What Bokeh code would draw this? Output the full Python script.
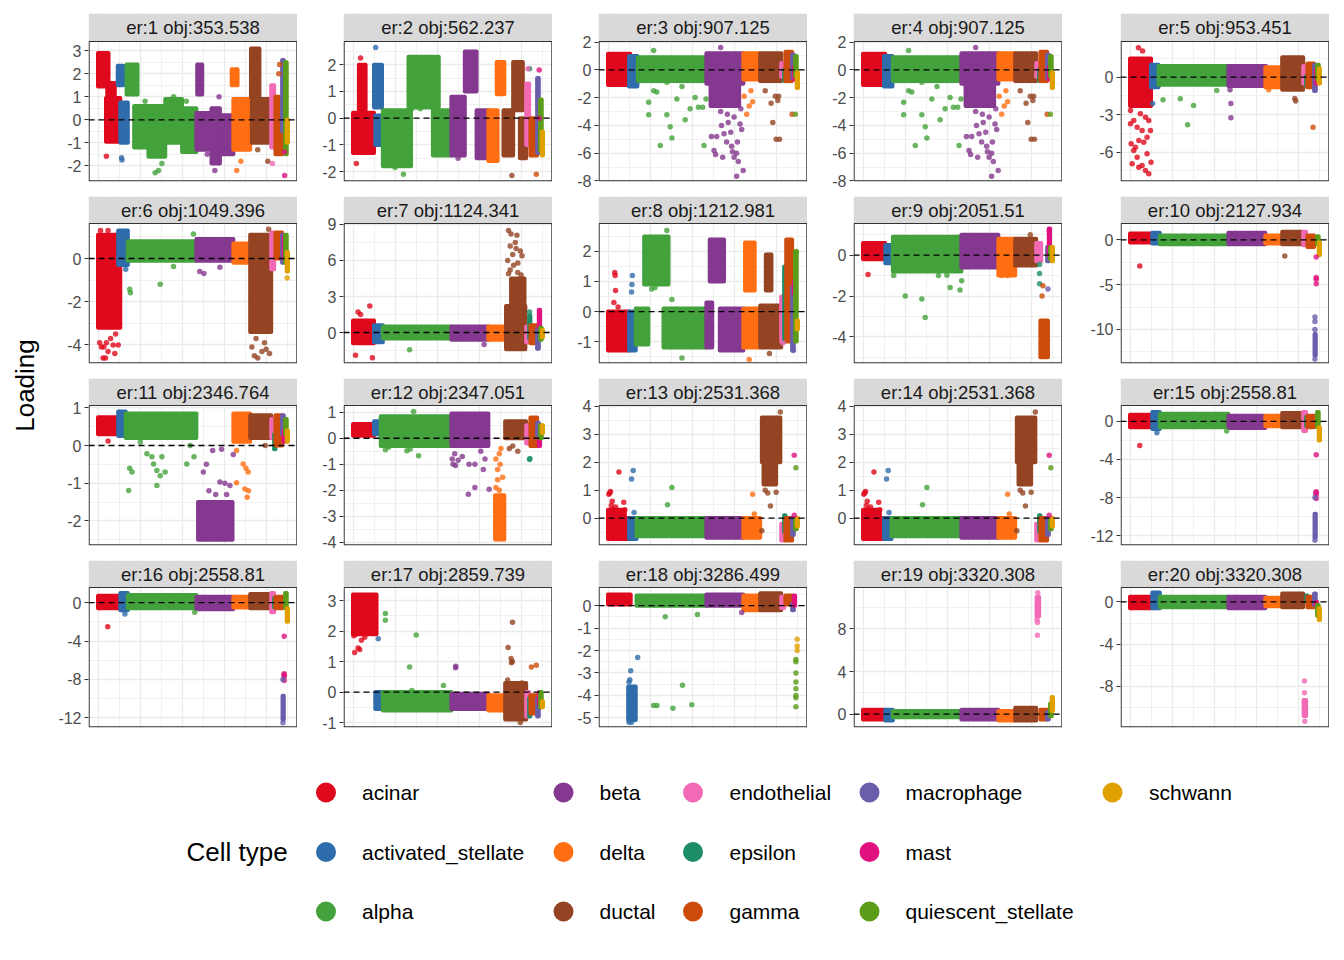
from math import pi

from bokeh.core.properties import value
from bokeh.embed import file_html
from bokeh.layouts import column, gridplot, row
from bokeh.models import ColumnDataSource, FixedTicker, Range1d, Span
from bokeh.plotting import figure
from bokeh.resources import INLINE

FONT = "Liberation Sans"

# cell types, in legend order
cell_types = ["acinar", "activated_stellate", "alpha", "beta", "delta", "ductal",
              "endothelial", "epsilon", "gamma", "macrophage", "mast",
              "quiescent_stellate", "schwann"]
type_codes = ["aci", "act", "alp", "bet", "del", "duc", "end", "eps", "gam",
              "mac", "mas", "qui", "sch"]
type_colors = ["#E0081C", "#2F6CAB", "#43A23B", "#84388F", "#FF6E12", "#944422",
               "#F26AB5", "#1C8D64", "#CE4C0B", "#6A5EAB", "#E0127F",
               "#5B9C18", "#E0A000"]

n_cells = 2260

facet_titles = ["er:1 obj:353.538", "er:2 obj:562.237", "er:3 obj:907.125",
                "er:4 obj:907.125", "er:5 obj:953.451", "er:6 obj:1049.396",
                "er:7 obj:1124.341", "er:8 obj:1212.981", "er:9 obj:2051.51",
                "er:10 obj:2127.934", "er:11 obj:2346.764", "er:12 obj:2347.051",
                "er:13 obj:2531.368", "er:14 obj:2531.368", "er:15 obj:2558.81",
                "er:16 obj:2558.81", "er:17 obj:2859.739", "er:18 obj:3286.499",
                "er:19 obj:3320.308", "er:20 obj:3320.308"]

facet_ylims = [(-2.68, 3.40), (-2.37, 2.87), (-8.04, 2.04), (-8.04, 2.04), (-8.34, 2.85),
               (-4.86, 1.62), (-2.58, 9.08), (-1.73, 2.93), (-5.30, 1.55), (-13.8, 1.83),
               (-2.65, 1.06), (-4.13, 1.26), (-0.98, 4.03), (-0.98, 4.03), (-13.05, 1.68),
               (-13.0, 1.57), (-1.16, 3.43), (-5.43, 0.81), (-1.26, 11.9), (-11.9, 1.37)]

facet_yticks = [[-2, -1, 0, 1, 2, 3], [-2, -1, 0, 1, 2], [-8, -6, -4, -2, 0, 2],
                [-8, -6, -4, -2, 0, 2], [-6, -3, 0], [-4, -2, 0], [0, 3, 6, 9],
                [-1, 0, 1, 2], [-4, -2, 0], [-10, -5, 0], [-2, -1, 0, 1],
                [-4, -3, -2, -1, 0, 1], [-1, 0, 1, 2, 3, 4], [-1, 0, 1, 2, 3, 4],
                [-12, -8, -4, 0], [-12, -8, -4, 0], [-1, 0, 1, 2, 3],
                [-5, -4, -3, -2, -1, 0], [0, 4, 8], [-8, -4, 0]]

# dense clouds: (type, first cell, last cell, low loading, high loading)
# isolated points: (type, cell, loading)
er1_bands = [("aci", 0, 125, 1.45, 2.9), ("aci", 95, 265, -0.95, 0.95), ("aci", 110, 200, 0.9, 1.6),
             ("act", 235, 300, 1.5, 2.35), ("act", 265, 355, -1.0, 0.75),
             ("alp", 340, 470, 1.1, 2.4), ("alp", 430, 600, -1.2, 0.6), ("alp", 600, 800, -1.6, 0.6),
             ("alp", 800, 1000, -1.0, 0.9), ("alp", 1000, 1170, -1.4, 0.5),
             ("bet", 1170, 1350, -1.3, 0.3), ("bet", 1350, 1450, -1.9, 0.5), ("bet", 1450, 1610, -1.5, 0.2),
             ("bet", 1180, 1240, 1.1, 2.4), ("del", 1610, 1810, -1.3, 0.9), ("del", 1590, 1660, 1.5, 2.2),
             ("duc", 1830, 2060, -1.0, 0.9), ("duc", 1820, 1920, 1.0, 3.1),
             ("end", 2060, 2095, -1.2, 1.5), ("gam", 2110, 2190, -1.5, 1.0), ("mac", 2190, 2210, -0.5, 2.6),
             ("qui", 2225, 2245, -1.5, 2.5), ("sch", 2245, 2260, -1.0, 0.0)]
er1_points = [("aci", 100, -1.58), ("act", 280, -1.65), ("act", 285, -1.75), ("alp", 680, -2.3),
              ("alp", 720, -2.2), ("alp", 760, -1.9), ("alp", 560, 0.8), ("alp", 900, 1.0),
              ("alp", 1050, 0.8), ("bet", 1390, -2.2), ("bet", 1300, -1.5), ("bet", 1440, 1.0),
              ("del", 1650, -2.2), ("del", 1700, -1.8), ("duc", 2020, -1.8), ("duc", 1900, -1.3),
              ("end", 2075, -1.9), ("gam", 2150, 2.0), ("gam", 2160, 2.4), ("mas", 2220, -2.42),
              ("mas", 2218, -1.4)]

er2_bands = [("aci", 0, 250, -1.3, 0.2), ("aci", 70, 150, 0.3, 2.0),
             ("act", 250, 345, 0.4, 2.0), ("act", 265, 355, -1.0, 0.1),
             ("alp", 355, 690, -1.8, 0.3), ("alp", 660, 1020, 0.4, 2.3), ("alp", 950, 1170, -1.4, 0.3),
             ("bet", 1170, 1330, -1.4, 0.8), ("bet", 1330, 1470, 1.0, 2.5), ("bet", 1470, 1610, -1.5, 0.3),
             ("del", 1610, 1720, -1.6, 0.3), ("del", 1710, 1800, 0.9, 2.1),
             ("duc", 1790, 1905, -1.4, 0.3), ("duc", 1905, 2020, 0.3, 2.1), ("duc", 1985, 2060, -1.5, 0.0),
             ("end", 2060, 2095, -1.0, 1.3), ("gam", 2110, 2190, -1.4, 0.0), ("mac", 2190, 2210, -1.3, 1.5),
             ("qui", 2225, 2245, -1.2, 0.7), ("sch", 2245, 2260, -1.4, -0.5)]
er2_points = [("aci", 40, -1.7), ("aci", 90, 2.25), ("act", 270, 2.65), ("alp", 600, -2.1),
              ("alp", 500, -1.85), ("alp", 700, 0.35), ("alp", 800, 0.35), ("bet", 1250, -1.5),
              ("duc", 1890, -2.15), ("eps", 2100, 1.85), ("mas", 2215, 1.8), ("mas", 2215, 0.0),
              ("gam", 2180, -2.1), ("end", 2080, 1.85)]

er3_bands = [("aci", 0, 265, -1.1, 1.15), ("act", 250, 350, -1.2, 1.0), ("alp", 355, 1170, -0.8, 0.9),
             ("bet", 1170, 1610, -1.0, 1.2), ("bet", 1220, 1560, -2.6, -1.0),
             ("del", 1610, 1810, -0.7, 1.2), ("duc", 1810, 2060, -0.8, 1.2),
             ("end", 2060, 2095, -0.5, 0.5), ("eps", 2095, 2110, -0.8, 0.0), ("gam", 2110, 2190, -0.8, 1.3),
             ("mac", 2190, 2210, -0.6, 1.1), ("mas", 2210, 2225, -0.7, 0.2), ("qui", 2225, 2245, -0.5, 1.0),
             ("sch", 2245, 2260, -1.3, -0.2)]
er3_points = [("alp", 484, -2.33), ("alp", 484, -3.24), ("alp", 543, -1.5), ("alp", 543, 1.4),
              ("alp", 622, -5.44), ("alp", 700, -3.24), ("alp", 700, -0.9), ("alp", 740, -4.1),
              ("alp", 760, -4.9), ("alp", 819, -2.1), ("alp", 918, -3.6), ("alp", 977, -2.8),
              ("alp", 1036, -2.0), ("alp", 1075, -2.7), ("alp", 1126, -2.7), ("alp", 1166, -2.1),
              ("alp", 1142, -5.44), ("alp", 580, -1.6), ("alp", 880, -1.2),
              ("bet", 1261, -5.8), ("bet", 1293, -4.8), ("bet", 1364, -6.3), ("bet", 1411, -5.2),
              ("bet", 1530, -7.67), ("bet", 1608, -7.24), ("bet", 1230, -4.8), ("bet", 1350, -4.0),
              ("bet", 1380, -4.6), ("bet", 1430, -3.8), ("bet", 1460, -4.5), ("bet", 1470, -5.5),
              ("bet", 1480, -5.9), ("bet", 1500, -6.3), ("bet", 1530, -6.0), ("bet", 1550, -6.6),
              ("bet", 1540, -5.2), ("bet", 1420, -3.2), ("bet", 1340, -3.0), ("bet", 1500, -3.4),
              ("bet", 1570, -3.9), ("bet", 1580, -2.8), ("bet", 1340, 1.6), ("bet", 1280, -6.1),
              ("bet", 1590, -4.3), ("del", 1620, -1.9), ("del", 1680, -2.6), ("del", 1720, -2.3),
              ("del", 1650, -3.2), ("del", 1700, -1.5), ("duc", 1870, -1.5), ("duc", 1940, -2.4),
              ("duc", 1960, -3.8), ("duc", 1990, -1.9), ("duc", 2020, -2.2), ("duc", 2000, -5.0),
              ("duc", 2040, -5.0), ("duc", 2030, -1.9), ("gam", 2190, -3.2), ("qui", 2230, -3.2)]

# er:4 has the same objective and the same loadings as er:3
er4_bands = er3_bands
er4_points = er3_points

er5_bands = [("aci", 0, 250, -2.3, 1.5), ("act", 250, 340, -0.8, 1.0), ("alp", 340, 1170, -0.6, 0.9),
             ("bet", 1170, 1620, -0.7, 0.9), ("del", 1610, 1800, -0.8, 0.8), ("duc", 1810, 2060, -1.0, 1.6),
             ("end", 2060, 2095, -0.5, 0.9), ("eps", 2095, 2110, -0.7, 0.1), ("gam", 2110, 2190, -0.8, 1.1),
             ("mac", 2190, 2210, -1.1, 1.0), ("mas", 2210, 2225, -0.5, 0.6), ("qui", 2225, 2245, -0.2, 1.0),
             ("sch", 2245, 2260, -0.5, 0.7)]
er5_points = [("aci", 6, -2.67), ("aci", 45, -3.47), ("aci", 85, -4.0), ("aci", 144, -4.27),
              ("aci", 184, -3.2), ("aci", 223, -3.47), ("aci", 14, -5.33), ("aci", 65, -5.6),
              ("aci", 105, -5.07), ("aci", 164, -5.2), ("aci", 203, -4.8), ("aci", 243, -4.27),
              ("aci", 26, -6.93), ("aci", 85, -6.4), ("aci", 144, -7.07), ("aci", 184, -7.47),
              ("aci", 223, -7.73), ("aci", 250, -6.8), ("aci", 105, -7.2), ("aci", 203, -6.13),
              ("aci", 45, -5.87), ("aci", 124, -2.93), ("aci", 235, -2.27), ("aci", 6, -3.73),
              ("aci", 100, 2.35), ("aci", 150, 2.1), ("act", 270, -2.1), ("alp", 393, -1.8),
              ("alp", 598, -1.73), ("alp", 756, -2.27), ("alp", 685, -3.8), ("alp", 1032, -1.07),
              ("bet", 1200, -2.1), ("bet", 1200, -3.25), ("bet", 1190, -1.0), ("del", 1650, -1.0),
              ("duc", 1960, -1.7), ("duc", 1970, -1.9), ("gam", 2177, -4.0)]

er6_bands = [("aci", 0, 265, -3.2, 1.1), ("act", 240, 355, -0.3, 1.3), ("alp", 355, 1170, -0.1, 0.8),
             ("bet", 1170, 1610, -0.1, 0.9), ("del", 1610, 1810, -0.2, 0.7), ("duc", 1810, 2060, -3.4, 1.1),
             ("end", 2060, 2095, -0.5, 1.2), ("gam", 2110, 2190, 0.0, 1.2), ("mac", 2190, 2210, -0.2, 1.1),
             ("mas", 2210, 2225, 0.0, 1.0), ("qui", 2225, 2245, -0.2, 1.1), ("sch", 2245, 2260, -0.6, 0.3)]
er6_points = [("aci", 20, -3.9), ("aci", 40, -4.1), ("aci", 60, -4.6), ("aci", 90, -4.6),
              ("aci", 120, -4.3), ("aci", 150, -3.7), ("aci", 180, -4.0), ("aci", 210, -3.5),
              ("aci", 240, -4.0), ("aci", 100, -3.9), ("aci", 200, -4.4), ("aci", 70, -4.1),
              ("aci", 30, 1.3), ("aci", 120, 1.3), ("aci", 230, -3.0), ("act", 330, -0.5),
              ("alp", 377, -1.42), ("alp", 385, -1.58), ("alp", 740, -1.19), ("alp", 898, -0.37),
              ("alp", 1135, 1.13), ("bet", 1210, -0.6), ("bet", 1260, -0.7), ("bet", 1450, -0.4),
              ("duc", 1830, -4.1), ("duc", 1860, -4.5), ("duc", 1900, -4.6), ("duc", 1950, -4.3),
              ("duc", 2000, -4.2), ("duc", 2040, -4.4), ("duc", 1980, -3.9), ("duc", 2030, 1.35),
              ("duc", 1880, -3.7), ("sch", 2250, -0.9)]

er7_bands = [("aci", 0, 250, -0.9, 1.0), ("act", 250, 355, -0.8, 0.6), ("alp", 355, 1170, -0.5, 0.5),
             ("bet", 1170, 1610, -0.6, 0.5), ("del", 1610, 1810, -0.6, 0.5), ("duc", 1820, 2050, -1.4, 2.2),
             ("duc", 1880, 2040, 2.2, 4.5), ("end", 2060, 2095, -0.8, 0.5), ("eps", 2095, 2110, -0.5, 1.4),
             ("gam", 2110, 2190, -0.9, 0.6), ("mac", 2190, 2210, -1.3, 0.3), ("mas", 2210, 2225, 0.4, 1.9),
             ("qui", 2225, 2245, -0.6, 0.4), ("sch", 2245, 2260, -0.4, 0.2)]
er7_points = [("aci", 60, 1.7), ("aci", 90, 1.5), ("aci", 200, 2.2), ("aci", 30, -1.9),
              ("aci", 230, -2.1), ("alp", 673, -1.44), ("bet", 1560, -1.0), ("duc", 1850, 8.5),
              ("duc", 1880, 8.2), ("duc", 1950, 8.1), ("duc", 1930, 7.5), ("duc", 1870, 7.2),
              ("duc", 1990, 6.8), ("duc", 1840, 6.0), ("duc", 1900, 6.5), ("duc", 1960, 5.8),
              ("duc", 1870, 5.2), ("duc", 2000, 4.8), ("duc", 1940, 7.0), ("duc", 2010, 6.4),
              ("duc", 1960, 5.0), ("duc", 1910, 5.6), ("duc", 1850, 4.9), ("eps", 2100, 1.7),
              ("mac", 2200, -1.3)]

er8_bands = [("aci", 0, 250, -1.3, 0.0), ("act", 250, 330, -1.3, 0.0), ("alp", 330, 480, -1.1, 0.1),
             ("alp", 430, 720, 0.9, 2.5), ("alp", 660, 1170, -1.2, 0.1), ("bet", 1170, 1240, -1.2, 0.3),
             ("bet", 1210, 1380, 1.0, 2.4), ("bet", 1330, 1610, -1.3, 0.1), ("del", 1610, 1800, -1.2, 0.1),
             ("del", 1630, 1745, 0.7, 2.3), ("duc", 1810, 2060, -1.2, 0.2), ("duc", 1877, 1944, 0.7, 1.9),
             ("end", 2060, 2095, -1.0, 0.5), ("eps", 2095, 2110, -1.0, 1.5), ("gam", 2120, 2190, -1.0, 2.4),
             ("mac", 2190, 2210, -1.3, 0.8), ("mas", 2210, 2225, 0.6, 1.0), ("qui", 2225, 2245, -1.0, 2.0),
             ("sch", 2245, 2260, -0.6, -0.3)]
er8_points = [("aci", 80, 1.3), ("aci", 85, 1.2), ("aci", 90, 0.7), ("aci", 70, 0.3), ("aci", 120, 0.15),
              ("act", 290, 1.2), ("act", 285, 0.9), ("act", 280, 0.65), ("alp", 700, 2.7),
              ("alp", 520, 0.75), ("alp", 560, 0.8), ("alp", 650, 0.95), ("alp", 880, -1.55),
              ("alp", 760, 0.4), ("del", 1680, -1.6), ("duc", 1920, -1.4), ("end", 2080, -1.05),
              ("qui", 2240, 2.0), ("mac", 2205, -1.3)]

er9_bands = [("aci", 0, 265, -0.2, 0.6), ("act", 265, 355, -0.4, 0.5), ("alp", 355, 1170, -0.8, 0.9),
             ("bet", 1170, 1610, -0.6, 1.0), ("del", 1610, 1810, -1.0, 0.8), ("duc", 1810, 2060, -0.5, 0.8),
             ("end", 2060, 2120, -0.3, 0.6), ("gam", 2110, 2200, -5.0, -3.2), ("mac", 2190, 2210, -0.3, 0.4),
             ("mas", 2210, 2225, 0.0, 1.3), ("qui", 2225, 2245, -0.2, 0.4), ("sch", 2245, 2260, -0.3, 0.4)]
er9_points = [("aci", 60, -0.95), ("alp", 365, -1.0), ("alp", 503, -0.7), ("alp", 622, -0.7),
              ("alp", 503, -2.0), ("alp", 700, -2.15), ("alp", 740, -3.05), ("alp", 898, -1.0),
              ("alp", 998, -0.98), ("alp", 1036, -1.58), ("alp", 1154, -1.7), ("alp", 1174, -1.25),
              ("del", 1650, -1.0), ("del", 1720, -1.0), ("duc", 1990, 1.0), ("eps", 2100, -0.45),
              ("eps", 2100, -0.9), ("eps", 2100, -1.4), ("gam", 2130, -2.0), ("gam", 2140, -1.5),
              ("mac", 2200, -1.65), ("mas", 2215, 1.2)]

er10_bands = [("aci", 0, 265, -0.3, 0.7), ("act", 265, 355, -0.4, 0.8), ("alp", 355, 1170, -0.5, 0.5),
              ("bet", 1170, 1610, -0.5, 0.8), ("del", 1610, 1810, -0.4, 0.5), ("duc", 1810, 2060, -0.5, 0.9),
              ("end", 2060, 2095, -0.6, 0.9), ("gam", 2110, 2190, -0.8, 0.5), ("mac", 2195, 2210, -12.9, -10.5),
              ("qui", 2225, 2245, -0.5, 0.4), ("sch", 2245, 2260, -1.7, -0.3)]
er10_points = [("aci", 116, -2.92), ("duc", 1841, -1.8), ("mas", 2215, -1.9), ("mas", 2215, -4.2),
               ("mas", 2215, -4.9), ("mas", 2215, -4.4), ("mac", 2200, -8.6), ("mac", 2200, -9.1),
               ("mac", 2200, -10.0), ("mac", 2200, -13.3)]

er11_bands = [("aci", 0, 250, 0.3, 0.75), ("act", 240, 330, 0.25, 0.9), ("alp", 330, 1170, 0.2, 0.85),
              ("bet", 1190, 1600, -2.5, -1.5), ("del", 1610, 1810, 0.1, 0.85), ("duc", 1810, 2060, 0.2, 0.8),
              ("end", 2060, 2095, 0.2, 0.7), ("eps", 2095, 2110, -0.1, 0.3), ("gam", 2110, 2190, 0.0, 0.8),
              ("mac", 2190, 2210, 0.3, 0.8), ("mas", 2210, 2225, 0.1, 0.4), ("qui", 2225, 2245, 0.3, 0.7),
              ("sch", 2245, 2260, 0.1, 0.4)]
er11_points = [("aci", 120, 0.12), ("alp", 377, -0.6), ("alp", 405, -0.7), ("alp", 365, -1.19),
               ("alp", 582, -0.22), ("alp", 641, -0.3), ("alp", 661, -0.49), ("alp", 700, -0.66),
               ("alp", 740, -0.8), ("alp", 799, -0.7), ("alp", 760, -0.3), ("alp", 700, -1.06),
               ("alp", 1056, -0.49), ("alp", 1142, -0.3), ("alp", 503, 0.09), ("alp", 1096, 0.0),
               ("bet", 1253, -0.7), ("bet", 1364, -0.13), ("bet", 1470, -0.1), ("bet", 1609, -0.24),
               ("bet", 1450, -0.97), ("bet", 1569, -1.06), ("bet", 1320, -1.2), ("bet", 1290, -0.5),
               ("bet", 1510, -1.0), ("bet", 1530, -1.3), ("bet", 1400, -1.3), ("del", 1648, -0.13),
               ("del", 1727, -0.49), ("del", 1786, -0.7), ("del", 1648, -0.99), ("del", 1747, -1.15),
               ("del", 1774, -1.37), ("del", 1760, -0.6), ("del", 1790, -1.2), ("duc", 1990, 0.0)]

er12_bands = [("aci", 0, 250, 0.1, 0.55), ("act", 250, 330, 0.15, 0.65), ("alp", 330, 1170, -0.3, 0.85),
              ("bet", 1170, 1610, -0.3, 0.95), ("del", 1690, 1800, -3.9, -2.2), ("duc", 1810, 2060, 0.0, 0.65),
              ("end", 2060, 2095, -0.2, 0.5), ("gam", 2110, 2190, -0.3, 0.8), ("mac", 2190, 2210, 0.1, 0.6),
              ("mas", 2210, 2225, -0.3, 0.0), ("qui", 2225, 2245, 0.0, 0.5), ("sch", 2245, 2260, 0.2, 0.5)]
er12_points = [("alp", 385, -0.44), ("alp", 641, -0.48), ("alp", 780, -0.67), ("alp", 800, -0.22),
               ("alp", 681, -0.41), ("alp", 720, 1.03), ("alp", 424, -0.35), ("bet", 1180, -0.8),
               ("bet", 1190, -1.0), ("bet", 1210, -0.6), ("bet", 1250, -0.85), ("bet", 1300, -0.7),
               ("bet", 1372, -2.16), ("bet", 1450, -1.9), ("bet", 1620, -1.96), ("bet", 1380, -1.0),
               ("bet", 1450, -1.0), ("bet", 1550, -1.2), ("bet", 1570, -0.8), ("bet", 1220, -1.05),
               ("bet", 1520, -0.5), ("del", 1700, -0.8), ("del", 1720, -1.2), ("del", 1740, -0.6),
               ("del", 1760, -0.4), ("del", 1750, -1.0), ("del", 1780, -1.5), ("del", 1720, -1.6),
               ("del", 1700, -1.9), ("del", 1740, -2.0), ("duc", 1860, -0.4), ("duc", 1900, -0.3),
               ("duc", 1960, -0.5), ("eps", 2100, -0.82), ("eps", 2104, -0.78)]

er13_bands = [("aci", 0, 265, -0.75, 0.0), ("aci", 0, 200, 0.0, 0.3), ("act", 250, 340, -0.75, 0.0),
              ("alp", 340, 1170, -0.65, 0.0), ("bet", 1170, 1610, -0.7, 0.0), ("del", 1610, 1810, -0.7, 0.0),
              ("duc", 1830, 2050, 2.0, 3.6), ("duc", 1850, 2000, 1.2, 2.0), ("end", 2060, 2095, -0.8, -0.2),
              ("eps", 2095, 2110, -0.5, 0.1), ("gam", 2110, 2190, -0.8, 0.0), ("mac", 2190, 2210, -0.6, 0.0),
              ("qui", 2225, 2245, -0.4, 0.0), ("sch", 2245, 2260, -0.3, 0.0)]
er13_points = [("aci", 20, 0.9), ("aci", 30, 0.95), ("aci", 50, 0.6), ("aci", 90, 0.4), ("aci", 130, 1.65),
               ("aci", 187, 0.57), ("aci", 200, 0.3), ("aci", 60, 0.3), ("aci", 100, 0.2), ("aci", 40, 0.45),
               ("aci", 10, 0.85), ("act", 280, 1.4), ("act", 300, 1.7), ("act", 310, 0.2),
               ("alp", 708, 0.48), ("alp", 760, 1.1), ("del", 1720, 0.85), ("del", 1740, 0.15),
               ("duc", 1932, 0.43), ("duc", 2000, 0.93), ("duc", 1830, -0.45), ("duc", 2050, 3.8),
               ("duc", 1900, 0.9), ("duc", 1870, 1.0), ("mas", 2215, 2.25), ("mas", 2215, 0.1),
               ("qui", 2235, 1.8)]

# er:14 repeats er:13
er14_bands = er13_bands
er14_points = er13_points

er15_bands = [("aci", 0, 265, -0.6, 0.7), ("act", 265, 355, -0.8, 1.0), ("alp", 355, 1170, -0.6, 0.8),
              ("bet", 1170, 1610, -0.7, 0.6), ("del", 1610, 1810, -0.5, 0.6), ("duc", 1810, 2060, -0.6, 0.9),
              ("end", 2060, 2095, -1.0, 1.0), ("eps", 2095, 2110, -0.5, 0.5), ("gam", 2110, 2190, -0.6, 0.6),
              ("mac", 2195, 2210, -12.2, -9.7), ("qui", 2225, 2245, -0.6, 1.0), ("sch", 2245, 2260, -2.0, -0.6)]
er15_points = [("aci", 116, -2.52), ("act", 320, -1.2), ("alp", 1150, -1.0), ("mas", 2215, -3.5),
               ("mas", 2215, -7.4), ("mas", 2215, -7.7), ("mas", 2215, -8.1), ("mas", 2212, -7.5),
               ("mac", 2200, -8.0), ("mac", 2200, -12.5)]

# er:16 repeats er:15
er16_bands = er15_bands
er16_points = er15_points

er17_bands = [("aci", 0, 280, 1.9, 3.2), ("act", 265, 355, -0.55, 0.0), ("alp", 355, 1170, -0.6, 0.0),
              ("bet", 1170, 1610, -0.55, -0.05), ("del", 1610, 1810, -0.6, -0.1), ("duc", 1810, 2060, -0.9, 0.3),
              ("end", 2060, 2095, -0.8, 0.0), ("eps", 2095, 2110, -0.8, -0.2), ("gam", 2110, 2190, -0.7, -0.1),
              ("mac", 2190, 2210, -0.8, -0.2), ("mas", 2210, 2225, -0.4, 0.0), ("qui", 2225, 2245, -0.5, 0.0),
              ("sch", 2245, 2260, -0.5, -0.3)]
er17_points = [("aci", 20, 1.3), ("aci", 60, 1.45), ("aci", 80, 1.4), ("aci", 30, 1.9), ("aci", 100, 1.7),
               ("aci", 140, 1.8), ("aci", 220, 2.2), ("aci", 10, 1.85), ("aci", 180, 1.95),
               ("act", 300, 1.75), ("alp", 385, 2.58), ("alp", 385, 2.36), ("alp", 673, 0.82),
               ("alp", 752, 1.87), ("alp", 1076, 0.22), ("alp", 700, 0.05), ("bet", 1220, 0.8),
               ("bet", 1222, 0.85), ("duc", 1897, 2.29), ("duc", 1845, 1.46), ("duc", 1885, 0.96),
               ("duc", 1880, 1.1), ("duc", 1895, 1.0), ("duc", 2010, 0.3), ("duc", 1840, 0.4),
               ("duc", 1990, -1.0), ("gam", 2122, 0.82), ("gam", 2181, 0.88)]

er18_bands = [("aci", 0, 270, 0.05, 0.5), ("act", 240, 330, -5.1, -3.6), ("alp", 340, 1170, 0.0, 0.45),
              ("bet", 1170, 1610, 0.0, 0.5), ("del", 1610, 1810, -0.2, 0.45), ("duc", 1810, 2060, -0.2, 0.55),
              ("end", 2060, 2095, -0.1, 0.4), ("gam", 2110, 2190, 0.05, 0.45), ("mac", 2190, 2210, -0.2, 0.1),
              ("mas", 2210, 2225, 0.0, 0.45)]
er18_points = [("act", 260, -3.3), ("act", 250, -3.4), ("act", 270, -2.9), ("act", 353, -2.31),
               ("act", 280, -5.2), ("act", 250, -5.2), ("alp", 681, -0.49), ("alp", 1064, -0.39),
               ("alp", 543, -4.45), ("alp", 582, -4.45), ("alp", 772, -4.57), ("alp", 886, -3.55),
               ("alp", 997, -4.42), ("bet", 1590, -0.3), ("sch", 2250, -1.5), ("sch", 2250, -1.8),
               ("sch", 2250, -2.0), ("qui", 2235, -2.4), ("qui", 2235, -3.0), ("qui", 2235, -3.4),
               ("qui", 2235, -3.7), ("qui", 2235, -4.0), ("qui", 2235, -4.1), ("qui", 2235, -4.5),
               ("qui", 2235, -2.5)]

er19_bands = [("aci", 0, 265, -0.5, 0.4), ("act", 265, 355, -0.6, 0.4), ("alp", 355, 1170, -0.3, 0.3),
              ("bet", 1170, 1610, -0.5, 0.4), ("del", 1610, 1810, -0.6, 0.3), ("duc", 1810, 2060, -0.6, 0.6),
              ("end", 2065, 2095, 9.2, 11.0), ("gam", 2110, 2190, -0.5, 0.4), ("mac", 2190, 2210, -0.5, 0.2),
              ("qui", 2225, 2245, -0.2, 1.0), ("sch", 2245, 2260, 0.3, 1.6)]
er19_points = [("end", 2075, 7.4), ("end", 2075, 8.6), ("end", 2080, 11.4), ("end", 2070, 8.9)]

er20_bands = [("aci", 0, 265, -0.6, 0.5), ("act", 265, 355, -0.6, 0.9), ("alp", 355, 1170, -0.5, 0.5),
              ("bet", 1170, 1610, -0.6, 0.5), ("del", 1610, 1810, -0.4, 0.4), ("duc", 1810, 2060, -0.5, 0.8),
              ("end", 2065, 2095, -10.8, -9.3), ("eps", 2095, 2110, 0.0, 0.6), ("gam", 2110, 2190, -0.5, 0.5),
              ("mac", 2190, 2210, -0.3, 0.8), ("mas", 2210, 2225, -0.3, 0.0), ("qui", 2225, 2245, -1.3, -0.3),
              ("sch", 2245, 2260, -1.7, -0.6)]
er20_points = [("end", 2075, -7.5), ("end", 2075, -8.6), ("end", 2080, -11.3)]

facet_bands = [er1_bands, er2_bands, er3_bands, er4_bands, er5_bands, er6_bands, er7_bands,
               er8_bands, er9_bands, er10_bands, er11_bands, er12_bands, er13_bands, er14_bands,
               er15_bands, er16_bands, er17_bands, er18_bands, er19_bands, er20_bands]
facet_points = [er1_points, er2_points, er3_points, er4_points, er5_points, er6_points, er7_points,
                er8_points, er9_points, er10_points, er11_points, er12_points, er13_points, er14_points,
                er15_points, er16_points, er17_points, er18_points, er19_points, er20_points]

code_color = dict(zip(type_codes, type_colors))

# layout (pixels, page origin at top-left)
YLAB_W = 48
col_left = [40, 46, 46, 46, 58]
row_top = [13, 0, 0, 0]
row_bottom = [15, 15, 15, 8]
strip_h = [28, 27, 27, 27]
PANEL_W, PANEL_H = 209, 140


def make_panel(k):
    c, r = k % 5, k // 5
    lo, hi = facet_ylims[k]
    pad = 0.05 * n_cells
    x0, x1 = -pad, n_cells + pad
    y_top = hi + (hi - lo) * strip_h[r] / PANEL_H
    p = figure(frame_width=PANEL_W, frame_height=PANEL_H + strip_h[r],
               x_range=Range1d(x0, x1), y_range=Range1d(lo, y_top),
               x_axis_location=None, output_backend="svg", toolbar_location=None,
               min_border_left=col_left[c], min_border_right=0,
               min_border_top=row_top[r], min_border_bottom=row_bottom[r],
               outline_line_color=None)

    ticks = facet_yticks[k]
    step = ticks[1] - ticks[0]
    minors = [t + step / 2 for t in [ticks[0] - step] + ticks]
    yt = FixedTicker(ticks=ticks, minor_ticks=[m for m in minors if lo < m < hi])
    p.yaxis.ticker = yt
    p.ygrid.ticker = yt
    p.xgrid.ticker = FixedTicker(ticks=[0, 500, 1000, 1500, 2000],
                                 minor_ticks=[250, 750, 1250, 1750, 2250])
    p.grid.grid_line_color = "#EBEBEB"
    p.grid.grid_line_width = 1.3
    p.grid.minor_grid_line_color = "#EBEBEB"
    p.grid.minor_grid_line_width = 0.7

    p.yaxis.major_label_overrides = {t: str(t) for t in ticks}
    p.yaxis.axis_line_color = None
    p.yaxis.major_tick_line_color = "#333333"
    p.yaxis.major_tick_in = 0
    p.yaxis.major_tick_out = 4
    p.yaxis.minor_tick_line_color = None
    p.yaxis.major_label_standoff = 3
    p.yaxis.major_label_text_font = FONT
    p.yaxis.major_label_text_font_size = "16px"
    p.yaxis.major_label_text_color = "#4D4D4D"

    bands = facet_bands[k]
    src = ColumnDataSource(dict(
        left=[b[1] for b in bands], right=[b[2] for b in bands],
        bottom=[b[3] for b in bands], top=[b[4] for b in bands],
        color=[code_color[b[0]] for b in bands]))
    p.quad(left="left", right="right", bottom="bottom", top="top", source=src,
           fill_color="color", line_color="color", line_width=4, line_join="round")

    pts = facet_points[k]
    psrc = ColumnDataSource(dict(x=[q[1] for q in pts], y=[q[2] for q in pts],
                                 color=[code_color[q[0]] for q in pts]))
    p.scatter(x="x", y="y", source=psrc, size=5.5, fill_color="color", line_color=None,
              fill_alpha=0.8)

    p.add_layout(Span(location=0, dimension="width", line_color="black",
                      line_dash="6 4", line_width=1.3))

    # facet strip on top of the frame
    p.quad(left=[x0], right=[x1], bottom=[hi], top=[y_top], fill_color="#D9D9D9", line_color=None)
    p.text(x=[n_cells / 2], y=[(hi + y_top) / 2], text=[facet_titles[k]], text_align="center",
           text_baseline="middle", text_font=value(FONT), text_font_size="18.5px",
           text_color="#1A1A1A")

    # panel border, kept half a pixel inside the frame
    dx = 0.6 * (x1 - x0) / PANEL_W
    dy = 0.6 * (hi - lo) / PANEL_H
    p.quad(left=[x0 + dx], right=[x1 - dx], bottom=[lo + dy], top=[hi], fill_color=None,
           line_color="#333333", line_width=1.2)
    return p


grid = gridplot([[make_panel(r * 5 + c) for c in range(5)] for r in range(4)],
                toolbar_location=None)

grid_h = sum(row_top) + sum(row_bottom) + sum(strip_h) + 4 * PANEL_H
ylab = figure(width=YLAB_W, height=grid_h, x_range=Range1d(0, YLAB_W), y_range=Range1d(0, grid_h),
              x_axis_location=None, y_axis_location=None, output_backend="svg",
              toolbar_location=None, min_border=0, outline_line_color=None)
ylab.grid.visible = False
ylab.text(x=[24], y=[grid_h - 385], text=["Loading"], angle=pi / 2, text_align="center",
          text_baseline="middle", text_font=value(FONT), text_font_size="26px", text_color="black")

total_w = YLAB_W + sum(col_left) + 5 * PANEL_W
leg_h = 960 - grid_h
leg = figure(width=total_w, height=leg_h, x_range=Range1d(0, total_w), y_range=Range1d(0, leg_h),
             x_axis_location=None, y_axis_location=None, output_backend="svg",
             toolbar_location=None, min_border=0, outline_line_color=None)
leg.grid.visible = False
key_x = [325.5, 563, 692.5, 869, 1112]
label_x = [361.5, 599, 729, 905, 1148.5]
row_y = [leg_h - (792 - grid_h), leg_h - (851.5 - grid_h), leg_h - (911 - grid_h)]
leg.scatter(x=[key_x[i // 3] for i in range(len(cell_types))],
            y=[row_y[i % 3] for i in range(len(cell_types))],
            size=20, fill_color=type_colors, line_color=None)
leg.text(x=[label_x[i // 3] for i in range(len(cell_types))],
         y=[row_y[i % 3] for i in range(len(cell_types))], text=cell_types,
         text_align="left", text_baseline="middle", text_font=value(FONT),
         text_font_size="21px", text_color="black")
leg.text(x=[186], y=[row_y[1]], text=["Cell type"], text_align="left", text_baseline="middle",
         text_font=value(FONT), text_font_size="26px", text_color="black")

page = column(row(ylab, grid), leg)
open("out.html", "w").write(file_html(page, INLINE))
